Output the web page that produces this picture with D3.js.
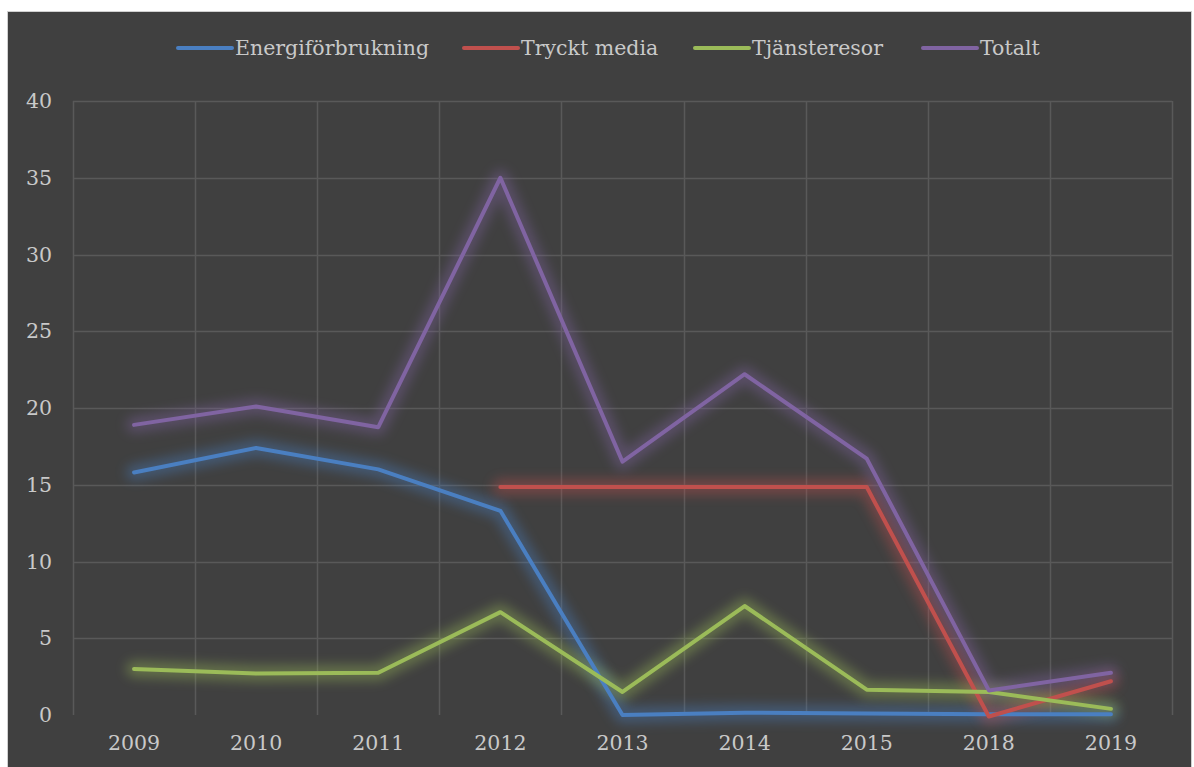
<!DOCTYPE html>
<html>
<head>
<meta charset="utf-8">
<script src="https://cdn.jsdelivr.net/npm/d3@7"></script>
<style>
  body { margin: 0; background: #ffffff; }
  svg text { font-family: "DejaVu Serif", "Liberation Serif", serif; fill: #c9c9c9; }
</style>
</head>
<body>
<script>
'use strict';

// categories and series values
let years = ["2009", "2010", "2011", "2012", "2013", "2014", "2015", "2018", "2019"];
let energi = [15.8, 17.4, 16.0, 13.3, 0.0, 0.15, 0.1, 0.05, 0.05];
let tryckt = [null, null, null, 14.85, 14.85, 14.85, 14.85, -0.1, 2.2];
let tjanste = [3.0, 2.7, 2.75, 6.7, 1.5, 7.1, 1.65, 1.5, 0.4];
let totalt = [18.9, 20.1, 18.75, 35.0, 16.5, 22.2, 16.7, 1.6, 2.75];
let yTicks = [0, 5, 10, 15, 20, 25, 30, 35, 40];

let seriesNames = ["Energiförbrukning", "Tryckt media", "Tjänsteresor", "Totalt"];
let seriesValues = [energi, tryckt, tjanste, totalt];
let seriesColors = ["#4a7fc1", "#c0504d", "#9bbb59", "#8064a2"];

let W = 1194, H = 767;
let margin = { top: 101, left: 73, bottom: 52, right: 22 };

let svg = d3.select("body").append("svg")
  .attr("width", W)
  .attr("height", H);

// glow filter
let defs = svg.append("defs");
defs.append("filter")
  .attr("id", "glow")
  .attr("x", "-20%").attr("y", "-20%")
  .attr("width", "140%").attr("height", "140%")
  .append("feGaussianBlur")
  .attr("stdDeviation", 6);

// chart frame
svg.append("rect")
  .attr("x", 7.5).attr("y", 11.5)
  .attr("width", W - 10).attr("height", H - 10)
  .attr("fill", "#404040")
  .attr("stroke", "#d0d0d0");

let xScale = d3.scaleBand()
  .domain(years)
  .range([margin.left, W - margin.right]);

let yScale = d3.scaleLinear()
  .domain([0, 40])
  .range([H - margin.bottom, margin.top]);

// gridlines
svg.append("g")
  .selectAll("line.h")
  .data(yTicks.filter(d => d > 0))
  .enter().append("line")
  .attr("x1", margin.left).attr("x2", W - margin.right)
  .attr("y1", d => Math.round(yScale(d)) + 0.5)
  .attr("y2", d => Math.round(yScale(d)) + 0.5)
  .attr("stroke", "#595959").attr("stroke-width", 1.5);

let vLines = years.map(y => xScale(y)).concat([W - margin.right]);
svg.append("g")
  .selectAll("line.v")
  .data(vLines)
  .enter().append("line")
  .attr("x1", d => Math.round(d) + 0.5).attr("x2", d => Math.round(d) + 0.5)
  .attr("y1", margin.top).attr("y2", H - margin.bottom)
  .attr("stroke", "#595959").attr("stroke-width", 1.5);

// y tick labels
svg.append("g")
  .selectAll("text")
  .data(yTicks)
  .enter().append("text")
  .attr("x", 52)
  .attr("y", d => yScale(d) + 7)
  .attr("text-anchor", "end")
  .style("font-size", "20.5px")
  .text(d => d);

// x tick labels
svg.append("g")
  .selectAll("text")
  .data(years)
  .enter().append("text")
  .attr("x", d => xScale(d) + xScale.bandwidth() / 2)
  .attr("y", H - margin.bottom + 35)
  .attr("text-anchor", "middle")
  .style("font-size", "20.5px")
  .text(d => d);

let line = d3.line()
  .defined(d => d != null)
  .x((d, i) => xScale(years[i]) + xScale.bandwidth() / 2)
  .y(d => yScale(d));

// glow layers
seriesValues.forEach((vals, i) => {
  svg.append("path")
    .attr("d", line(vals))
    .attr("fill", "none")
    .attr("stroke", seriesColors[i])
    .attr("stroke-width", 16)
    .attr("stroke-linejoin", "round")
    .attr("stroke-linecap", "round")
    .attr("opacity", 0.4)
    .attr("filter", "url(#glow)");
});

// lines
seriesValues.forEach((vals, i) => {
  svg.append("path")
    .attr("d", line(vals))
    .attr("fill", "none")
    .attr("stroke", seriesColors[i])
    .attr("stroke-width", 4)
    .attr("stroke-linejoin", "round")
    .attr("stroke-linecap", "round");
});

// legend
let legendX = [178, 464, 695, 923];
let legend = svg.append("g");
seriesNames.forEach((name, i) => {
  legend.append("line")
    .attr("x1", legendX[i]).attr("x2", legendX[i] + 54)
    .attr("y1", 48).attr("y2", 48)
    .attr("stroke", seriesColors[i])
    .attr("stroke-width", 4)
    .attr("stroke-linecap", "round");
  legend.append("text")
    .attr("x", legendX[i] + 57)
    .attr("y", 55)
    .style("font-size", "20.5px")
    .text(name);
});
</script>
</body>
</html>
